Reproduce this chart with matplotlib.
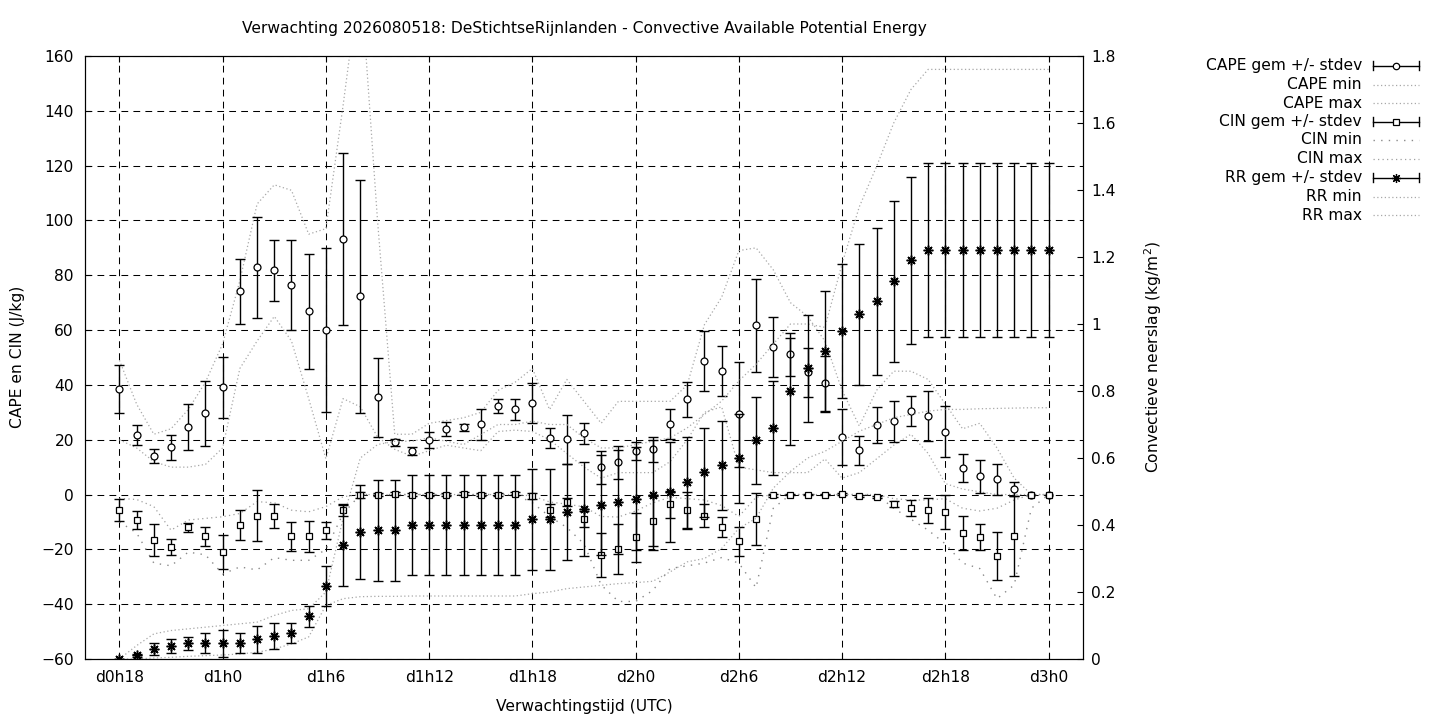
import numpy as np
import matplotlib
matplotlib.use('Agg')
import matplotlib.pyplot as plt
from matplotlib.lines import Line2D
from matplotlib.ticker import FormatStrFormatter

# forecast hours (d0h18 .. d3h0)
hours = list(range(18, 73))
tick_hours = [18, 24, 30, 36, 42, 48, 54, 60, 66, 72]
tick_labels = ['d0h18', 'd1h0', 'd1h6', 'd1h12', 'd1h18', 'd2h0', 'd2h6', 'd2h12', 'd2h18', 'd3h0']

cape_mean = [38.4, 21.6, 14.0, 17.3, 24.5, 29.6, 39.1, 74.1, 82.9, 81.8, 76.3, 66.8, 59.9, 93.1, 72.3, 35.5,
             19.0, 15.9, 19.8, 23.8, 24.5, 25.6, 32.2, 31.1, 33.4, 20.5, 20.1, 22.3, 9.9, 11.7, 15.9, 16.5,
             25.6, 34.7, 48.7, 45.1, 29.3, 61.7, 53.7, 51.1, 44.6, 40.6, 20.9, 16.2, 25.4, 26.7, 30.4, 28.6,
             23.0, 9.6, 6.6, 5.5, 2.0, 0.0, 0.0]
cape_std = [8.7, 3.6, 2.5, 4.6, 8.4, 12.0, 11.0, 12.0, 18.4, 11.1, 16.4, 21.0, 29.9, 31.4, 42.5, 14.4,
            1.4, 1.6, 3.0, 2.5, 1.4, 5.7, 2.5, 3.8, 7.3, 3.6, 9.0, 3.7, 5.9, 6.0, 3.4, 4.5,
            5.5, 6.4, 10.9, 9.0, 19.2, 17.0, 10.9, 8.0, 8.9, 10.0, 10.2, 5.3, 6.6, 7.6, 5.5, 9.2,
            9.3, 5.2, 6.0, 5.8, 2.7, 0.0, 0.0]
cape_min = [20, 17, 12, 10, 10, 11, 17, 46, 56, 65, 56, 35, 13, 35, 32, 21,
            16.5, 14, 16, 18, 17, 16, 23, 23.5, 23, 20, 15, 10, 6, 8, 8, 8,
            12, 20, 30, 32, 10, 9, 8, 8, 8, 13, 6, 8, 13, 18, 22, 15,
            4, 2, 1, 0, 0, 0, 0]
cape_max = [49, 33, 22, 24, 31, 41, 55, 78, 106, 113, 111, 95, 97, 142, 190, 100,
            22, 22, 26, 27, 28, 30, 38, 41, 46, 31, 42, 34, 26, 34, 34, 34,
            34, 40, 62, 72, 89, 90, 82, 70, 65, 56, 38, 25, 38, 45, 45, 42,
            33, 24, 26, 17, 6, 0, 0]

cin_mean = [-5.7, -9.3, -16.6, -19.2, -12.0, -15.3, -21.1, -11.1, -7.8, -7.8, -15.3, -15.3, -13.1, -5.8, -0.2, 0.0,
            0.3, 0.0, 0.0, 0.0, 0.3, 0.0, 0.0, 0.3, -0.5, -5.7, -2.8, -9.0, -22.2, -20.0, -15.6, -9.8,
            -3.6, -5.8, -7.8, -11.9, -17.1, -8.9, -0.3, 0.0, 0.0, 0.0, 0.3, -0.5, -0.9, -3.5, -4.9, -5.7,
            -6.4, -14.0, -15.5, -22.4, -15.1, 0.0, 0.0]
cin_std = [3.9, 3.3, 5.7, 3.0, 1.6, 3.3, 6.2, 5.5, 9.3, 4.4, 5.2, 5.5, 3.1, 2.2, 1.0, 0.5,
           0.5, 0.5, 0.5, 0.5, 0.5, 0.5, 0.5, 0.5, 1.0, 2.4, 1.5, 3.0, 8.0, 9.1, 9.0, 9.1,
           5.0, 6.8, 4.2, 3.7, 5.3, 9.4, 0.5, 0.3, 0.3, 0.3, 0.3, 0.3, 0.3, 1.2, 2.9, 4.5,
           6.1, 6.2, 4.7, 8.7, 14.7, 0.0, 0.0]
cin_min = [-10, -14, -25, -26, -21, -22, -29, -26.4, -27.5, -23, -24, -24, -20, -7, 0, 0,
           0, 0, 0, 0, 0, 0, 0, 0, -3, -8, -12, -18, -33, -39, -39, -35,
           -27, -26, -25, -23, -25, -34, -5, 0, 0, 0, 0, 0, 0, -5, -9, -13,
           -18, -25, -27, -38, -33, -5, 0]
cin_max = [-1.4, -1.8, -4.4, -13, -9.3, -8.7, -8.1, -6.9, -2.6, -3, -5.7, -6.3, -4.4, -0.8, 0, 0,
           0, 0, 0, 0, 0, 0, 0, 0, -0.5, -2.7, -3.5, -4.5, -8, -8.2, -6, -3,
           -1, -1.5, -2, -4, -8, -1, 0, 0, 0, 0, 0, 0, 0, -1.5, -2, -2,
           -1.5, -5, -6, -5, -2, 0, 0]

rr_mean = [0.0, 0.011, 0.029, 0.038, 0.047, 0.047, 0.047, 0.047, 0.059, 0.068, 0.077, 0.127, 0.217, 0.339, 0.378, 0.384,
           0.384, 0.40, 0.40, 0.40, 0.40, 0.40, 0.40, 0.40, 0.417, 0.417, 0.439, 0.447, 0.459, 0.468, 0.479, 0.49,
           0.498, 0.527, 0.557, 0.578, 0.599, 0.653, 0.689, 0.799, 0.868, 0.918, 0.979, 1.029, 1.068, 1.128, 1.19, 1.22,
           1.22, 1.22, 1.22, 1.22, 1.22, 1.22, 1.22]
rr_std = [0.0, 0.005, 0.018, 0.021, 0.02, 0.03, 0.041, 0.03, 0.04, 0.039, 0.03, 0.03, 0.06, 0.121, 0.14, 0.15,
          0.15, 0.15, 0.15, 0.15, 0.15, 0.15, 0.15, 0.15, 0.15, 0.15, 0.143, 0.14, 0.15, 0.155, 0.155, 0.165,
          0.149, 0.137, 0.132, 0.132, 0.133, 0.13, 0.14, 0.16, 0.16, 0.18, 0.2, 0.21, 0.22, 0.24, 0.25, 0.26,
          0.26, 0.26, 0.26, 0.26, 0.26, 0.26, 0.26]
rr_min = [0, 0, 0.003, 0.005, 0.008, 0.01, 0.012, 0.015, 0.02, 0.03, 0.045, 0.066, 0.16, 0.18, 0.186, 0.187,
          0.187, 0.188, 0.188, 0.188, 0.188, 0.188, 0.188, 0.188, 0.195, 0.2, 0.21, 0.215, 0.22, 0.225, 0.228, 0.232,
          0.26, 0.29, 0.3, 0.33, 0.39, 0.42, 0.51, 0.56, 0.6, 0.62, 0.65, 0.68, 0.7, 0.72, 0.73, 0.74,
          0.745, 0.745, 0.747, 0.748, 0.749, 0.75, 0.75]
rr_max = [0, 0.04, 0.075, 0.085, 0.09, 0.095, 0.1, 0.105, 0.11, 0.13, 0.145, 0.15, 0.2, 0.42, 0.6, 0.64,
          0.65, 0.65, 0.66, 0.65, 0.64, 0.67, 0.70, 0.70, 0.71, 0.70, 0.70, 0.66, 0.63, 0.63, 0.64, 0.65,
          0.66, 0.69, 0.73, 0.77, 0.83, 0.88, 0.94, 1.0, 1.0, 0.99, 1.18, 1.35, 1.47, 1.6, 1.7, 1.76,
          1.76, 1.76, 1.76, 1.76, 1.76, 1.76, 1.76]

plt.rcParams['font.family'] = 'DejaVu Sans'
plt.rcParams['font.size'] = 11.2

W, H = 1440, 720
fig = plt.figure(figsize=(W / 100, H / 100), dpi=100)
ax = fig.add_axes([85 / W, 1 - 659 / H, 998 / W, 603 / H])
ax2 = ax.twinx()

light = dict(color='#a8a8a8', lw=0.9, linestyle=(0, (1, 2)))
sparse = dict(color='#8a8a8a', lw=1.0, linestyle=(0, (1, 4.5)))
medium = dict(color='#a0a0a0', lw=0.9, linestyle=(0, (1, 2.6)))
bar_kw = dict(fmt='none', ecolor='black', elinewidth=1.0, capsize=3.3, capthick=1.0)
star = (8, 2, 0)


def draw_series(a, mean, std, marker, ms, fill, mew=0.9):
    x = np.array(hours)
    m = np.array(mean)
    s = np.array(std)
    keep = s > 0
    a.errorbar(x[keep], m[keep], yerr=s[keep], zorder=3, **bar_kw)
    a.plot(x, m, linestyle='none', marker=marker, ms=ms, mfc=fill, mec='black', mew=mew, zorder=4)


draw_series(ax, cape_mean, cape_std, 'o', 5.0, 'white')
ax.plot(hours, cape_min, zorder=2, **light)
ax.plot(hours, cape_max, zorder=2, **light)
draw_series(ax, cin_mean, cin_std, 's', 4.8, 'white')
ax.plot(hours, cin_min, zorder=2, **sparse)
ax.plot(hours, cin_max, zorder=2, **medium)
draw_series(ax2, rr_mean, rr_std, star, 7.0, 'black', mew=1.1)
ax2.plot(hours, rr_min, zorder=2, **light)
ax2.plot(hours, rr_max, zorder=2, **light)

ax.set_xlim(16, 74)
ax.set_ylim(-60, 160)
ax2.set_ylim(0, 1.8)
ax.set_xticks(tick_hours)
ax.set_xticklabels(tick_labels)
ax.set_yticks(range(-60, 161, 20))
ax2.set_yticks(np.arange(0, 1.81, 0.2))
ax2.yaxis.set_major_formatter(FormatStrFormatter('%g'))

ax.grid(True, color='black', linestyle=(0, (6.5, 5)), linewidth=0.75)
ax.set_axisbelow(True)
ax.tick_params(axis='both', direction='in', length=4, width=0.8, top=True, right=False)
ax.tick_params(axis='x', pad=8)
ax.tick_params(axis='y', pad=8)
ax2.tick_params(axis='y', direction='in', length=4, width=0.8, pad=6)
for a in (ax, ax2):
    for sp in a.spines.values():
        sp.set_linewidth(0.8)

fig.text(584 / W, 1 - 28 / H,
         'Verwachting 2026080518: DeStichtseRijnlanden - Convective Available Potential Energy',
         ha='center', va='center')
fig.text(584 / W, 1 - 706 / H, 'Verwachtingstijd (UTC)', ha='center', va='center')
fig.text(18 / W, 1 - 357 / H, 'CAPE en CIN (J/kg)', rotation=90, ha='center', va='center')
fig.text(1153 / W, 1 - 357 / H, 'Convectieve neerslag (kg/m$^2$)', rotation=90, ha='center', va='center')

# legend drawn by hand, text right aligned next to the sample
rows = [65.7, 84.7, 103.3, 121.7, 140, 158.7, 177.7, 196.7, 215]
entries = [('CAPE gem +/- stdev', 'bar', 'o'), ('CAPE min', light, None), ('CAPE max', light, None),
           ('CIN gem +/- stdev', 'bar', 's'), ('CIN min', sparse, None), ('CIN max', medium, None),
           ('RR gem +/- stdev', 'bar', star), ('RR min', light, None), ('RR max', light, None)]
x1, x2 = 1373, 1419
for yy, (label, style, mk) in zip(rows, entries):
    fy = 1 - yy / H
    fig.text(1362 / W, fy, label, ha='right', va='center')
    if style == 'bar':
        fig.add_artist(Line2D([x1 / W, x2 / W], [fy, fy], color='black', lw=1.0, transform=fig.transFigure))
        for xc in (x1, x2):
            fig.add_artist(Line2D([xc / W, xc / W], [fy - 4.5 / H, fy + 4.5 / H], color='black', lw=1.0,
                                  transform=fig.transFigure))
        fill = 'black' if mk == star else 'white'
        fig.add_artist(Line2D([(x1 + x2) / 2 / W], [fy], marker=mk, ms=4.6 if mk != star else 6.5,
                              mfc=fill, mec='black', mew=0.9, linestyle='none', transform=fig.transFigure))
    else:
        fig.add_artist(Line2D([x1 / W, x2 / W], [fy, fy], transform=fig.transFigure, **style))

fig.savefig('out.png', dpi=100)
